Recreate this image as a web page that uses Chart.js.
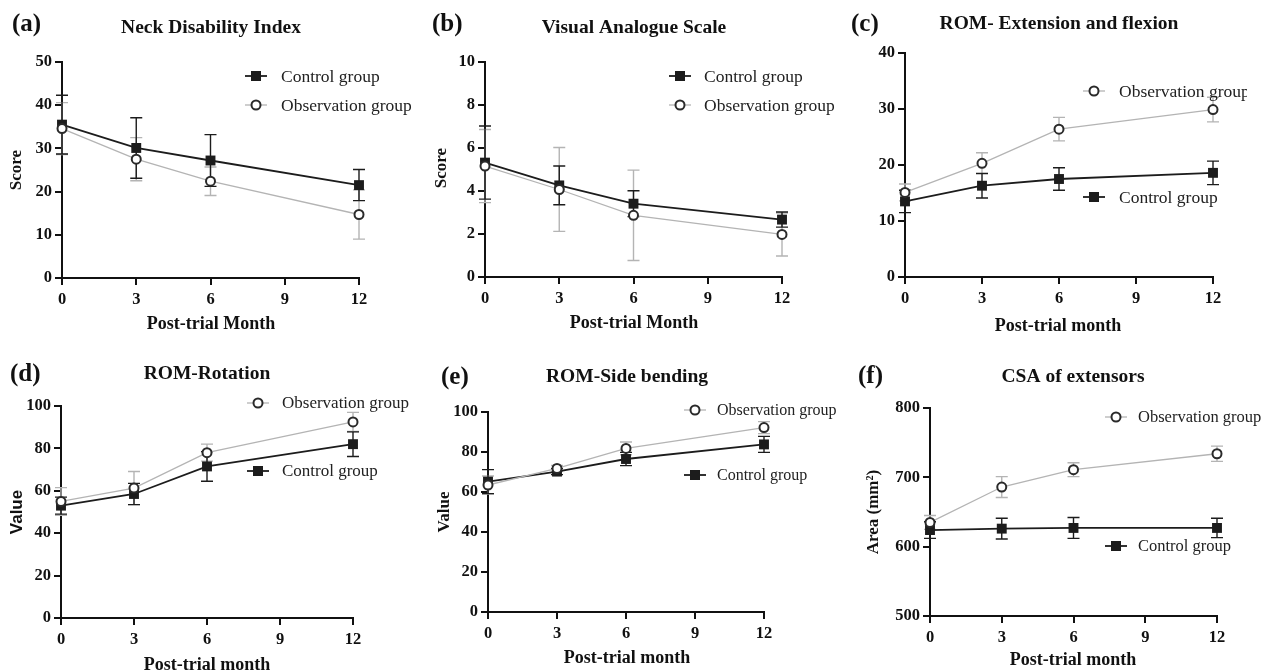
<!DOCTYPE html>
<html lang="en">
<head>
<meta charset="UTF-8">
<title>Neck pain outcomes</title>
<script src="https://cdn.jsdelivr.net/npm/chart.js"></script>
<style>
  body { margin: 0; background: #fff; }
  #wrap { position: relative; width: 1270px; height: 672px; overflow: hidden; }
  #wrap canvas { position: absolute; }
</style>
</head>
<body>
<div id="wrap"></div>
<script>
// months after trial, shared by all panels
const months = [0, 3, 6, 12];
const xTicks = [0, 3, 6, 9, 12];

// (a) Neck Disability Index
const ndiControl = [35.5, 30.1, 27.2, 21.5];
const ndiControlErr = [6.8, 7.0, 6.0, 3.6];
const ndiObs = [34.6, 27.5, 22.4, 14.7];
const ndiObsErr = [6.0, 5.0, 3.3, 5.7];
const ndiTicks = [0, 10, 20, 30, 40, 50];

// (b) Visual Analogue Scale
const vasControl = [5.32, 4.26, 3.41, 2.67];
const vasControlErr = [1.7, 0.9, 0.6, 0.35];
const vasObs = [5.16, 4.07, 2.87, 1.98];
const vasObsErr = [1.7, 1.95, 2.1, 1.0];
const vasTicks = [0, 2, 4, 6, 8, 10];

// (c) ROM extension / flexion
const efControl = [13.5, 16.3, 17.5, 18.6];
const efControlErr = [2.0, 2.2, 2.0, 2.1];
const efObs = [15.1, 20.3, 26.4, 29.9];
const efObsErr = [1.5, 1.9, 2.1, 2.2];
const efTicks = [0, 10, 20, 30, 40];

// (d) ROM rotation
const rotControl = [53.0, 58.5, 71.5, 82.0];
const rotControlErr = [4.0, 5.0, 7.0, 5.8];
const rotObs = [55.0, 61.3, 78.0, 92.5];
const rotObsErr = [6.5, 7.8, 4.0, 4.5];
const rotTicks = [0, 20, 40, 60, 80, 100];

// (e) ROM side bending
const sideControl = [65.2, 70.2, 76.5, 83.8];
const sideControlErr = [6.0, 1.5, 3.3, 4.0];
const sideObs = [63.5, 71.8, 81.8, 92.2];
const sideObsErr = [4.5, 1.5, 3.2, 3.0];
const sideTicks = [0, 20, 40, 60, 80, 100];

// (f) CSA of extensors
const csaControl = [624, 626, 627, 627];
const csaControlErr = [12, 15, 15, 14];
const csaObs = [635, 686, 711, 734];
const csaObsErr = [10, 15, 10, 11];
const csaTicks = [500, 600, 700, 800];

const SERIF = '"Liberation Serif", "Times New Roman", serif';
const DARK = '#1c1c1c';
const LIGHT = '#b4b4b4';

// panel layout in page pixels: box = canvas, area = plot area
const panels = [
  { label: '(a)', labelPos: [12, 25], title: 'Neck Disability Index', titlePos: [211, 28],
    box: [0, 0, 425, 336], area: [62, 62, 359, 278], yTicks: ndiTicks,
    control: ndiControl, controlErr: ndiControlErr, obs: ndiObs, obsErr: ndiObsErr,
    yTitle: 'Score', yTitlePos: [17, 170], xTitle: 'Post-trial Month', xTitlePos: [211, 324],
    legendSize: 17.5, legend: { ctrl: [256, 76, 281], obs: [256, 105, 281] } },
  { label: '(b)', labelPos: [432, 25], title: 'Visual Analogue Scale', titlePos: [634, 28],
    box: [425, 0, 845, 336], area: [485, 62, 782, 277], yTicks: vasTicks,
    control: vasControl, controlErr: vasControlErr, obs: vasObs, obsErr: vasObsErr,
    yTitle: 'Score', yTitlePos: [442, 168], xTitle: 'Post-trial Month', xTitlePos: [634, 323],
    legendSize: 17.5, legend: { ctrl: [680, 76, 704], obs: [680, 105, 704] } },
  { label: '(c)', labelPos: [851, 25], title: 'ROM- Extension and flexion', titlePos: [1059, 24],
    box: [845, 0, 1270, 336], area: [905, 53, 1213, 277], yTicks: efTicks,
    control: efControl, controlErr: efControlErr, obs: efObs, obsErr: efObsErr,
    yTitle: 'Degree', yTitlePos: [16, 165], xTitle: 'Post-trial month', xTitlePos: [1058, 326],
    legendSize: 17.5, legend: { ctrl: [1094, 197, 1119], obs: [1094, 91, 1119] }, clipRight: 1247 },
  { label: '(d)', labelPos: [10, 375], title: 'ROM-Rotation', titlePos: [207, 374],
    box: [0, 336, 425, 672], area: [61, 406, 353, 618], yTicks: rotTicks,
    control: rotControl, controlErr: rotControlErr, obs: rotObs, obsErr: rotObsErr,
    yTitle: 'Value', yTitlePos: [17, 512], yTitleFont: 'bold 17px "Liberation Sans", Arial, sans-serif',
    xTitle: 'Post-trial month', xTitlePos: [207, 665],
    legendSize: 17, legend: { ctrl: [258, 471, 282], obs: [258, 403, 282] } },
  { label: '(e)', labelPos: [441, 378], title: 'ROM-Side bending', titlePos: [627, 377],
    box: [425, 336, 845, 672], area: [488, 412, 764, 612], yTicks: sideTicks,
    control: sideControl, controlErr: sideControlErr, obs: sideObs, obsErr: sideObsErr,
    yTitle: 'Value', yTitlePos: [445, 512], xTitle: 'Post-trial month', xTitlePos: [627, 658],
    legendSize: 16, legend: { ctrl: [695, 475, 717], obs: [695, 410, 717] } },
  { label: '(f)', labelPos: [858, 377], title: 'CSA of extensors', titlePos: [1073, 377],
    box: [845, 336, 1270, 672], area: [930, 408, 1217, 616], yTicks: csaTicks,
    control: csaControl, controlErr: csaControlErr, obs: csaObs, obsErr: csaObsErr,
    yTitle: 'Area (mm\u00B2)', yTitlePos: [874, 512], xTitle: 'Post-trial month', xTitlePos: [1073, 660],
    legendSize: 16.5, legend: { ctrl: [1116, 546, 1138], obs: [1116, 417, 1138] } }
];

const Y_AXIS_W = 40;
const X_AXIS_H = 30;

// error bars, drawn under the markers
const errorBars = {
  id: 'errorBars',
  beforeDatasetsDraw(chart) {
    const ctx = chart.ctx, xs = chart.scales.x, ys = chart.scales.y;
    chart.data.datasets.forEach(ds => {
      ctx.save();
      ctx.strokeStyle = ds.errColor;
      ctx.lineWidth = 1.4;
      ds.data.forEach((p, i) => {
        const e = ds.errors[i];
        const px = xs.getPixelForValue(p.x);
        const top = ys.getPixelForValue(p.y + e);
        const bot = ys.getPixelForValue(p.y - e);
        ctx.beginPath();
        ctx.moveTo(px, top); ctx.lineTo(px, bot);
        ctx.moveTo(px - 6, top); ctx.lineTo(px + 6, top);
        ctx.moveTo(px - 6, bot); ctx.lineTo(px + 6, bot);
        ctx.stroke();
      });
      ctx.restore();
    });
  }
};

function drawMarker(ctx, kind, x, y) {
  ctx.save();
  if (kind === 'ctrl') {
    ctx.fillStyle = DARK;
    ctx.fillRect(x - 5, y - 5, 10, 10);
  } else {
    ctx.beginPath();
    ctx.arc(x, y, 4.5, 0, Math.PI * 2);
    ctx.fillStyle = '#fff';
    ctx.fill();
    ctx.lineWidth = 2;
    ctx.strokeStyle = '#2a2a2a';
    ctx.stroke();
  }
  ctx.restore();
}

// titles, panel letter, axis titles and the legend
const panelText = {
  id: 'panelText',
  afterDraw(chart) {
    const p = chart.options.plugins.panelText;
    const ctx = chart.ctx;
    const ox = p.box[0], oy = p.box[1];
    ctx.save();
    ctx.fillStyle = '#111';
    ctx.textBaseline = 'middle';

    ctx.font = 'bold 25px ' + SERIF;
    ctx.textAlign = 'left';
    ctx.fillText(p.label, p.labelPos[0] - ox, p.labelPos[1] - oy);

    ctx.font = 'bold 19.5px ' + SERIF;
    ctx.textAlign = 'center';
    ctx.fillText(p.title, p.titlePos[0] - ox, p.titlePos[1] - oy);

    ctx.font = 'bold 18px ' + SERIF;
    ctx.fillText(p.xTitle, p.xTitlePos[0] - ox, p.xTitlePos[1] - oy);

    ctx.save();
    ctx.translate(p.yTitlePos[0] - ox, p.yTitlePos[1] - oy);
    ctx.rotate(-Math.PI / 2);
    ctx.font = p.yTitleFont || ('bold 17px ' + SERIF);
    ctx.fillText(p.yTitle, 0, 0);
    ctx.restore();

    if (p.clipRight) {
      ctx.beginPath();
      ctx.rect(0, 0, p.clipRight - ox, chart.height);
      ctx.clip();
    }
    ctx.font = p.legendSize + 'px ' + SERIF;
    ctx.textAlign = 'left';
    [['ctrl', 'Control group', DARK, 1.8], ['obs', 'Observation group', LIGHT, 1.3]].forEach(([k, text, col, lw]) => {
      const [mx, my, tx] = p.legend[k];
      ctx.beginPath();
      ctx.strokeStyle = col;
      ctx.lineWidth = lw;
      ctx.moveTo(mx - 11 - ox, my - oy);
      ctx.lineTo(mx + 11 - ox, my - oy);
      ctx.stroke();
      drawMarker(ctx, k, mx - ox, my - oy);
      ctx.fillStyle = '#222';
      ctx.fillText(text, tx - ox, my - oy + 1);
    });
    ctx.restore();
  }
};

function axisOptions(ticks, isX) {
  return {
    type: 'linear',
    min: ticks[0],
    max: ticks[ticks.length - 1],
    afterBuildTicks: s => { s.ticks = ticks.map(v => ({ value: v })); },
    afterFit: s => { if (isX) s.height = X_AXIS_H; else s.width = Y_AXIS_W; },
    ticks: {
      autoSkip: false, maxRotation: 0, padding: isX ? 5 : 3, color: '#111',
      font: { family: SERIF, size: 16.5, weight: 'bold' }
    },
    grid: { drawOnChartArea: false, drawTicks: true, tickLength: 7, color: '#111', lineWidth: 2 },
    border: { display: true, color: '#111', width: 2 }
  };
}

const wrap = document.getElementById('wrap');
panels.forEach(p => {
  const [bx0, by0, bx1, by1] = p.box;
  const [al, at, ar, ab] = p.area;
  const canvas = document.createElement('canvas');
  canvas.width = bx1 - bx0;
  canvas.height = by1 - by0;
  canvas.style.left = bx0 + 'px';
  canvas.style.top = by0 + 'px';
  wrap.appendChild(canvas);

  const pts = arr => months.map((m, i) => ({ x: m, y: arr[i] }));

  new Chart(canvas, {
    type: 'line',
    data: {
      datasets: [
        {
          label: 'Observation group', data: pts(p.obs), errors: p.obsErr, errColor: LIGHT,
          borderColor: LIGHT, borderWidth: 1.3, pointStyle: 'circle', pointRadius: 4.5,
          pointBackgroundColor: '#fff', pointBorderColor: '#2a2a2a', pointBorderWidth: 2, clip: false
        },
        {
          label: 'Control group', data: pts(p.control), errors: p.controlErr, errColor: DARK,
          borderColor: DARK, borderWidth: 1.8, pointStyle: 'rect', pointRadius: 7,
          pointBackgroundColor: DARK, pointBorderColor: DARK, pointBorderWidth: 0, clip: false
        }
      ]
    },
    options: {
      responsive: false,
      animation: false,
      layout: {
        padding: {
          left: al - bx0 - Y_AXIS_W,
          top: at - by0,
          right: bx1 - ar,
          bottom: by1 - ab - X_AXIS_H
        }
      },
      scales: {
        x: axisOptions(xTicks, true),
        y: axisOptions(p.yTicks, false)
      },
      plugins: {
        legend: { display: false },
        tooltip: { enabled: false },
        panelText: p
      }
    },
    plugins: [errorBars, panelText]
  });
});
</script>
</body>
</html>
